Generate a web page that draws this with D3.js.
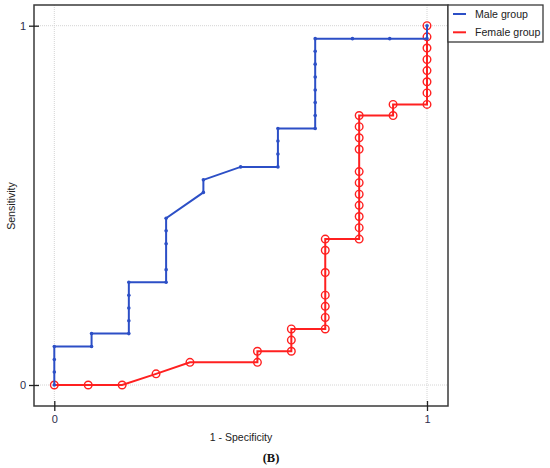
<!DOCTYPE html>
<html>
<head>
<meta charset="utf-8">
<script src="https://cdn.jsdelivr.net/npm/d3@7"></script>
<style>
  body { margin: 0; background: #fff; }
  svg { display: block; font-family: "Liberation Sans", Arial, sans-serif; }
</style>
</head>
<body>
<div id="chart"></div>
<script>
// ROC points
var maleFpr = [0, 0, 0, 0, 0.1, 0.1, 0.2, 0.2, 0.2, 0.2, 0.2, 0.3, 0.3, 0.3, 0.3, 0.3,
    0.4, 0.4, 0.5, 0.6, 0.6, 0.6, 0.6, 0.7, 0.7, 0.7, 0.7, 0.7, 0.7, 0.7, 0.7, 0.8, 0.9, 1, 1];
var maleTpr = [0, 0.036, 0.071, 0.107, 0.107, 0.143, 0.143, 0.179, 0.214, 0.25, 0.286, 0.286,
    0.321, 0.393, 0.429, 0.464, 0.536, 0.571, 0.607, 0.607, 0.643, 0.679, 0.714, 0.714,
    0.75, 0.786, 0.821, 0.857, 0.893, 0.929, 0.964, 0.964, 0.964, 0.964, 1];

var femaleFpr = [0, 0.091, 0.182, 0.273, 0.364, 0.545, 0.545, 0.636, 0.636, 0.636,
    0.727, 0.727, 0.727, 0.727, 0.727, 0.727, 0.727,
    0.818, 0.818, 0.818, 0.818, 0.818, 0.818, 0.818, 0.818, 0.818, 0.818, 0.818,
    0.909, 0.909, 1, 1, 1, 1, 1, 1, 1, 1];
var femaleTpr = [0, 0, 0, 0.031, 0.063, 0.063, 0.094, 0.094, 0.125, 0.156,
    0.156, 0.188, 0.219, 0.25, 0.313, 0.375, 0.406,
    0.406, 0.438, 0.469, 0.5, 0.531, 0.563, 0.594, 0.656, 0.688, 0.719, 0.75,
    0.75, 0.781, 0.781, 0.813, 0.844, 0.875, 0.906, 0.938, 0.969, 1];

var tickValues = [0, 1];
var seriesNames = ["Male group", "Female group"];
var colors = ["#2c4fc6", "#ff2020"];

var w = 550, h = 468;
// frame of the plot area
var frameL = 34, frameR = 448, frameT = 5, frameB = 406;

var svg = d3.select("#chart").append("svg").attr("width", w).attr("height", h);

var xScale = d3.scaleLinear().domain([0, 1]).range([54.3, 427]);
var yScale = d3.scaleLinear().domain([0, 1]).range([385, 25.7]);

// dotted grid at 0 and 1
svg.selectAll("line.gx").data(tickValues).enter().append("line")
    .attr("class", "gx")
    .attr("x1", function(d) { return xScale(d); })
    .attr("x2", function(d) { return xScale(d); })
    .attr("y1", frameT).attr("y2", frameB)
    .attr("stroke", "#d4d4d4").attr("stroke-dasharray", "1,1");
svg.selectAll("line.gy").data(tickValues).enter().append("line")
    .attr("class", "gy")
    .attr("y1", function(d) { return yScale(d); })
    .attr("y2", function(d) { return yScale(d); })
    .attr("x1", frameL).attr("x2", frameR)
    .attr("stroke", "#d4d4d4").attr("stroke-dasharray", "1,1");

// frame
svg.append("rect")
    .attr("x", frameL).attr("y", frameT)
    .attr("width", frameR - frameL).attr("height", frameB - frameT)
    .attr("fill", "none").attr("stroke", "#3a3a3a").attr("stroke-width", 1.5);

// axes (ticks cross the frame)
var xAxis = d3.axisBottom(xScale).tickValues(tickValues).tickFormat(d3.format("d"))
    .tickSize(10).tickPadding(4);
var gx = svg.append("g").attr("transform", "translate(0," + (frameB - 5) + ")").call(xAxis);
var yAxis = d3.axisLeft(yScale).tickValues(tickValues).tickFormat(d3.format("d"))
    .tickSize(10).tickPadding(3);
var gy = svg.append("g").attr("transform", "translate(" + (frameL + 5) + ",0)").call(yAxis);
[gx, gy].forEach(function(g) {
    g.select(".domain").remove();
    g.selectAll(".tick line").attr("stroke", "#222").attr("stroke-width", 1.3);
    g.selectAll(".tick text").attr("fill", "#2d2d4d")
        .style("font-size", "11px").style("font-family", "Liberation Sans, Arial, sans-serif");
});

// axis titles
svg.append("text")
    .attr("transform", "translate(15,206) rotate(-90)")
    .attr("text-anchor", "middle")
    .style("font-size", "10.6px").style("fill", "#222")
    .text("Sensitivity");
svg.append("text")
    .attr("x", 241).attr("y", 441)
    .attr("text-anchor", "middle")
    .style("font-size", "10.5px").style("fill", "#222")
    .text("1 - Specificity");
svg.append("text")
    .attr("x", 271).attr("y", 462)
    .attr("text-anchor", "middle")
    .style("font-family", "Liberation Serif, Times New Roman, serif")
    .style("font-weight", "bold").style("font-size", "12.5px").style("fill", "#111")
    .text("(B)");

var line = d3.line()
    .x(function(d) { return xScale(d[0]); })
    .y(function(d) { return yScale(d[1]); });

var female = d3.zip(femaleFpr, femaleTpr);
var male = d3.zip(maleFpr, maleTpr);

// female curve with open circles
svg.append("path").datum(female)
    .attr("d", line).attr("fill", "none")
    .attr("stroke", colors[1]).attr("stroke-width", 2);
svg.selectAll("circle.female").data(female).enter().append("circle")
    .attr("class", "female")
    .attr("cx", function(d) { return xScale(d[0]); })
    .attr("cy", function(d) { return yScale(d[1]); })
    .attr("r", 3.8)
    .attr("fill", "none").attr("stroke", colors[1]).attr("stroke-width", 1.4);

// male curve with small dots
svg.append("path").datum(male)
    .attr("d", line).attr("fill", "none")
    .attr("stroke", colors[0]).attr("stroke-width", 2);
svg.selectAll("circle.male").data(male).enter().append("circle")
    .attr("class", "male")
    .attr("cx", function(d) { return xScale(d[0]); })
    .attr("cy", function(d) { return yScale(d[1]); })
    .attr("r", 1.8)
    .attr("fill", colors[0]);

// legend
var legend = svg.append("g");
legend.append("rect")
    .attr("x", 448).attr("y", 5).attr("width", 95).attr("height", 37)
    .attr("fill", "#fff").attr("stroke", "#3a3a3a").attr("stroke-width", 1.3);
seriesNames.forEach(function(name, i) {
    var ly = 14 + i * 18.3;
    legend.append("line")
        .attr("x1", 453).attr("x2", 466).attr("y1", ly).attr("y2", ly)
        .attr("stroke", colors[i]).attr("stroke-width", 2);
    legend.append("text")
        .attr("x", 475).attr("y", ly)
        .attr("dominant-baseline", "central")
        .style("font-size", "10.6px").style("fill", "#222")
        .text(name);
});
</script>
</body>
</html>
